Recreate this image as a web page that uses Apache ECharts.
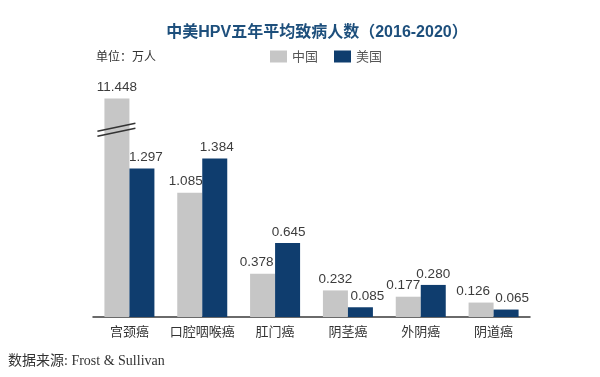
<!DOCTYPE html>
<html>
<head>
<meta charset="utf-8">
<script src="https://cdn.jsdelivr.net/npm/echarts@6/dist/echarts.min.js"></script>
<style>
    html, body { margin: 0; padding: 0; background: #fff; }
    #chart { width: 600px; height: 377px; }
</style>
</head>
<body>
<div id="chart"></div>
<script>
    // 数据
    const categories = ['宫颈癌', '口腔咽喉癌', '肛门癌', '阴茎癌', '外阴癌', '阴道癌']
    const chinaValues = [11.448, 1.085, 0.378, 0.232, 0.177, 0.126]
    const usValues = [1.297, 1.384, 0.645, 0.085, 0.280, 0.065]
    const seriesNames = ['中国', '美国']
    const color = ['#c6c6c6', '#0f3d6e']
    const breakStart = 1.63
    const breakEnd = 11.21

    // 数值标签的水平偏移（避免和相邻柱子重叠）
    const chinaLabelShift = [0, -4, -6, 0, -5, -8]
    const usLabelShift = [4, 2, 1, 7, 0, 6]

    const chart = echarts.init(document.getElementById('chart'))

    const labelStyle = {
        show: true,
        position: 'top',
        distance: 4,
        color: '#3c3c3c',
        fontSize: 13.5,
        fontFamily: 'Arial, "Liberation Sans", sans-serif',
        formatter: p => p.value.toFixed(3)
    }

    function buildData(values, shifts) {
        return values.map((v, i) => ({
            value: v,
            label: { offset: [shifts[i], 0] }
        }))
    }

    const textGraphics = [
        {
            type: 'text',
            left: 96,
            top: 50,
            style: {
                text: '单位：万人',
                fill: '#333',
                fontSize: 12,
                fontFamily: '"Noto Sans CJK SC", sans-serif'
            }
        },
        {
            type: 'text',
            left: 8,
            top: 354,
            style: {
                text: '数据来源: Frost & Sullivan',
                fill: '#333',
                fontSize: 14,
                fontFamily: '"Liberation Serif", "Noto Sans CJK SC", serif'
            }
        }
    ]

    const option = {
        animation: false,
        color: color,
        title: {
            text: '中美HPV五年平均致病人数（2016-2020）',
            left: 312,
            top: 20,
            textAlign: 'center',
            textStyle: {
                color: '#1d4f7c',
                fontSize: 16,
                fontWeight: 'bold',
                fontFamily: 'Arial, "Noto Sans CJK SC", sans-serif'
            }
        },
        legend: {
            data: seriesNames,
            left: 270,
            top: 50,
            padding: 0,
            icon: 'rect',
            itemWidth: 17,
            itemHeight: 12,
            itemGap: 16,
            textStyle: {
                color: '#555',
                fontSize: 13,
                fontFamily: '"Noto Sans CJK SC", sans-serif'
            }
        },
        graphic: textGraphics,
        grid: {
            left: 93,
            right: 70,
            top: 81,
            bottom: 60
        },
        xAxis: {
            type: 'category',
            data: categories,
            axisLine: { lineStyle: { color: '#3a3a3a', width: 1.5 } },
            axisTick: { show: false },
            axisLabel: {
                interval: 0,
                color: '#333',
                fontSize: 13,
                margin: 8,
                fontFamily: '"Noto Sans CJK SC", sans-serif'
            }
        },
        yAxis: {
            type: 'value',
            min: 0,
            max: 11.6,
            show: false,
            splitLine: { show: false },
            breaks: [
                { start: breakStart, end: breakEnd, gap: 0.04 }
            ],
            breakArea: { show: false }
        },
        series: [
            {
                name: seriesNames[0],
                type: 'bar',
                data: buildData(chinaValues, chinaLabelShift),
                barWidth: 25,
                barGap: '0%',
                label: labelStyle
            },
            {
                name: seriesNames[1],
                type: 'bar',
                data: buildData(usValues, usLabelShift),
                barWidth: 25,
                label: labelStyle
            }
        ]
    }

    chart.setOption(option)

    // 断轴标记 “//”
    const p = chart.convertToPixel({ xAxisIndex: 0, yAxisIndex: 0 }, [0, breakStart])
    const x0 = p[0] - 32
    const x1 = p[0] + 6
    const y0 = p[1]
    chart.setOption({
        graphic: textGraphics.concat([
            {
                type: 'line',
                z: 10,
                shape: { x1: x0, y1: y0 + 1, x2: x1, y2: y0 - 7 },
                style: { stroke: '#333', lineWidth: 1.5 }
            },
            {
                type: 'line',
                z: 10,
                shape: { x1: x0, y1: y0 + 6, x2: x1, y2: y0 - 2 },
                style: { stroke: '#333', lineWidth: 1.5 }
            }
        ])
    })
</script>
</body>
</html>
